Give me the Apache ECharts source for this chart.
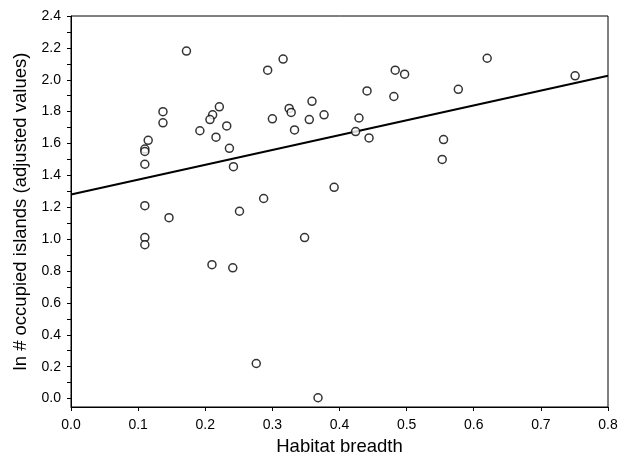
<!DOCTYPE html>
<html>
<head>
<meta charset="utf-8">
<script src="https://cdn.jsdelivr.net/npm/echarts@6/dist/echarts.min.js"></script>
<style>
  html, body { margin: 0; padding: 0; background: #fff; }
  #chart { width: 627px; height: 458px; }
</style>
</head>
<body>
<div id="chart"></div>
<script>
// habitat breadth (x) vs ln # occupied islands, adjusted (y)
var habitatBreadth = [
  0.172, 0.293, 0.137, 0.137, 0.221, 0.211, 0.207, 0.300, 0.192, 0.232,
  0.216, 0.115, 0.110, 0.110, 0.236, 0.110, 0.242, 0.287, 0.316, 0.483,
  0.497, 0.441, 0.481, 0.577, 0.359, 0.325, 0.328, 0.355, 0.377, 0.333,
  0.429, 0.424, 0.444, 0.555, 0.553, 0.392, 0.620, 0.751, 0.110, 0.146,
  0.110, 0.110, 0.210, 0.241, 0.251, 0.276, 0.348, 0.368
];
var occupiedIslands = [
  2.18, 2.06, 1.80, 1.73, 1.83, 1.78, 1.75, 1.755, 1.68, 1.71,
  1.64, 1.62, 1.565, 1.55, 1.57, 1.47, 1.455, 1.255, 2.13, 2.06,
  2.035, 1.93, 1.895, 1.94, 1.865, 1.82, 1.795, 1.75, 1.78, 1.685,
  1.76, 1.675, 1.635, 1.625, 1.50, 1.325, 2.135, 2.025, 1.21, 1.135,
  1.01, 0.965, 0.84, 0.82, 1.175, 0.22, 1.01, 0.005
];

// fitted regression line end points
var trendX = [0.0, 0.8];
var trendY = [1.28, 2.025];

// tick labels
var xTicks = [0.0, 0.1, 0.2, 0.3, 0.4, 0.5, 0.6, 0.7, 0.8];
var yTicks = [0.0, 0.2, 0.4, 0.6, 0.8, 1.0, 1.2, 1.4, 1.6, 1.8, 2.0, 2.2, 2.4];
var yMinorTicks = [0.0, 0.1, 0.2, 0.3, 0.4, 0.5, 0.6, 0.7, 0.8, 0.9, 1.0, 1.1, 1.2,
  1.3, 1.4, 1.5, 1.6, 1.7, 1.8, 1.9, 2.0, 2.1, 2.2, 2.3, 2.4];

var points = [];
for (var i = 0; i < habitatBreadth.length; i++) {
  points.push([habitatBreadth[i], occupiedIslands[i]]);
}
var trend = [];
for (var j = 0; j < trendX.length; j++) {
  trend.push([trendX[j], trendY[j]]);
}

var font = '"Liberation Sans", Arial, sans-serif';
var chart = echarts.init(document.getElementById('chart'));

chart.setOption({
  animation: false,
  backgroundColor: '#fff',
  textStyle: { fontFamily: font, color: '#000' },
  grid: {
    left: 71, right: 19, top: 16, bottom: 51,
    outerBoundsMode: 'none',
    containLabel: false,
    show: true, borderColor: '#000', borderWidth: 1, backgroundColor: 'transparent'
  },
  xAxis: {
    type: 'value',
    min: 0, max: 0.8, interval: 0.1,
    name: 'Habitat breadth',
    nameLocation: 'middle',
    nameGap: 30,
    nameTextStyle: { fontSize: 18.5, fontFamily: font, color: '#000' },
    axisLine: { show: true, onZero: false, lineStyle: { color: '#000', width: 1 } },
    axisTick: { show: true, length: 4, lineStyle: { color: '#000' }, customValues: xTicks },
    axisLabel: {
      fontSize: 14, fontFamily: font, color: '#000', margin: 11,
      customValues: xTicks,
      formatter: function (v) { return v.toFixed(1); }
    },
    splitLine: { show: false }
  },
  yAxis: {
    type: 'value',
    min: -0.053, max: 2.4,
    name: 'ln # occupied islands (adjusted values)',
    nameLocation: 'middle',
    nameGap: 41,
    nameRotate: 90,
    nameTextStyle: { fontSize: 18.5, fontFamily: font, color: '#000' },
    axisLine: { show: true, onZero: false, lineStyle: { color: '#000', width: 1 } },
    axisTick: { show: true, length: 4, lineStyle: { color: '#000' }, customValues: yMinorTicks },
    axisLabel: {
      fontSize: 14, fontFamily: font, color: '#000', margin: 10,
      customValues: yTicks,
      formatter: function (v) { return v.toFixed(1); }
    },
    splitLine: { show: false }
  },
  series: [
    {
      type: 'line',
      data: trend,
      symbol: 'none',
      lineStyle: { color: '#000', width: 2 },
      z: 2
    },
    {
      type: 'scatter',
      data: points,
      symbol: 'circle',
      symbolSize: 8,
      itemStyle: { color: '#fff', borderColor: '#000', borderWidth: 1.5 },
      z: 3
    }
  ]
});
</script>
</body>
</html>
